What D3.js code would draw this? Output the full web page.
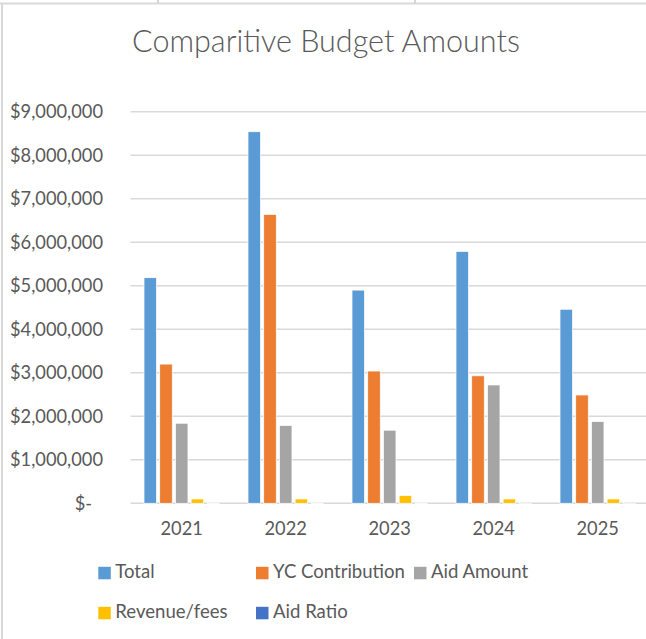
<!DOCTYPE html>
<html>
<head>
<meta charset="utf-8">
<script src="https://cdn.jsdelivr.net/npm/d3@7"></script>
<style>
  body { margin: 0; background: #fff; }
  text { font-family: Lato, "Open Sans", sans-serif; fill: #595959; }
</style>
</head>
<body>
<div id="chart"></div>
<script>
// chart data
var years = ["2021", "2022", "2023", "2024", "2025"];
var seriesNames = ["Total", "YC Contribution", "Aid Amount", "Revenue/fees", "Aid Ratio"];
var seriesColors = ["#5B9BD5", "#ED7D31", "#A5A5A5", "#FFC000", "#4472C4"];
var total = [5185000, 8540000, 4900000, 5790000, 4460000];
var ycContribution = [3200000, 6640000, 3040000, 2930000, 2490000];
var aidAmount = [1840000, 1790000, 1680000, 2720000, 1880000];
var revenueFees = [100000, 100000, 180000, 100000, 100000];
var aidRatio = [0.35, 0.21, 0.34, 0.47, 0.42];
var yTicks = [0, 1000000, 2000000, 3000000, 4000000, 5000000, 6000000, 7000000, 8000000, 9000000];

var allSeries = [total, ycContribution, aidAmount, revenueFees, aidRatio];

var svgWidth = 646;
var svgHeight = 639;

var margin = { top: 111.7, right: 0, bottom: 135.7, left: 130 };
var height = svgHeight - margin.top - margin.bottom;

var svg = d3.select("#chart")
    .append("svg")
    .attr("width", svgWidth)
    .attr("height", svgHeight);

// size a text so its width matches what the reference shows
function fitWidth(sel, size, target) {
    var w = sel.node().getComputedTextLength();
    return size * target / w;
}

// spreadsheet cell lines round the chart
svg.append("line").attr("x1", 0).attr("x2", svgWidth).attr("y1", 3.5).attr("y2", 3.5)
    .attr("stroke", "#d9d9d9").attr("stroke-width", 2);
[158, 415].forEach(function (x) {
    svg.append("line").attr("x1", x).attr("x2", x).attr("y1", 0).attr("y2", 3)
        .attr("stroke", "#c8c8c8").attr("stroke-width", 1.5);
});
svg.append("line").attr("x1", 2).attr("x2", 2).attr("y1", 3).attr("y2", svgHeight)
    .attr("stroke", "#d9d9d9").attr("stroke-width", 2);

// title
var title = svg.append("text")
    .attr("x", 326)
    .attr("y", 52)
    .attr("text-anchor", "middle")
    .style("font-weight", 300)
    .style("font-size", "30px")
    .text("Comparitive Budget Amounts");
title.style("font-size", fitWidth(title, 30, 388) + "px");

// scales
var x0 = d3.scaleBand()
    .domain(years)
    .range([129.7, 649.7]);

var x1 = d3.scaleBand()
    .domain(d3.range(seriesNames.length))
    .range([-37.7, 37.7])
    .paddingInner(0.2);

var y = d3.scaleLinear()
    .domain([0, 9000000])
    .range([margin.top + height, margin.top]);

// gridlines
svg.append("g")
    .selectAll("line")
    .data(yTicks)
    .enter()
    .append("line")
    .attr("x1", 130.5)
    .attr("x2", svgWidth)
    .attr("y1", d => y(d))
    .attr("y2", d => y(d))
    .attr("stroke", "#d9d9d9")
    .attr("stroke-width", 1.5);

// y axis labels
var fmt = d3.format(",");
var yLabels = svg.append("g")
    .selectAll("text")
    .data(yTicks)
    .enter()
    .append("text")
    .attr("x", d => d === 0 ? 92 : 103)
    .attr("y", d => y(d))
    .attr("dy", "0.36em")
    .attr("text-anchor", "end")
    .style("font-size", "18px")
    .text(d => d === 0 ? "$-" : "$" + fmt(d));
var ySize = fitWidth(yLabels.filter(d => d === 9000000), 18, 93);
yLabels.style("font-size", ySize + "px");

// bars
var barData = [];
years.forEach(function (yr, i) {
    allSeries.forEach(function (s, j) {
        barData.push({ year: yr, series: j, value: s[i] });
    });
});

svg.append("g")
    .selectAll("rect")
    .data(barData)
    .enter()
    .append("rect")
    .attr("x", d => x0(d.year) + x0.bandwidth() / 2 + x1(d.series))
    .attr("y", d => y(d.value))
    .attr("width", x1.bandwidth())
    .attr("height", d => y(0) - y(d.value))
    .attr("fill", d => seriesColors[d.series])
    .attr("stroke", "#fff")
    .attr("stroke-width", 0.75);

// x axis labels
svg.append("g")
    .selectAll("text")
    .data(years)
    .enter()
    .append("text")
    .attr("x", d => x0(d) + x0.bandwidth() / 2)
    .attr("y", 535)
    .attr("text-anchor", "middle")
    .style("font-size", ySize + "px")
    .text(d => d);

// legend
var legendPos = [
    { x: 98.3, y: 578.3 },
    { x: 256, y: 578.3 },
    { x: 414, y: 578.3 },
    { x: 98.3, y: 618.3 },
    { x: 256, y: 618.3 }
];

var legend = svg.append("g")
    .selectAll("g")
    .data(seriesNames)
    .enter()
    .append("g")
    .attr("transform", (d, i) => `translate(${legendPos[i].x}, ${legendPos[i].y})`);

legend.append("rect")
    .attr("x", 0)
    .attr("y", -11.5)
    .attr("width", 12.5)
    .attr("height", 12.5)
    .attr("fill", (d, i) => seriesColors[i]);

var legendText = legend.append("text")
    .attr("x", 17)
    .attr("y", 0)
    .style("font-size", "19px")
    .text(d => d);
var lSize = fitWidth(legendText.filter(d => d === "YC Contribution"), 19, 132);
legendText.style("font-size", lSize + "px");
</script>
</body>
</html>
